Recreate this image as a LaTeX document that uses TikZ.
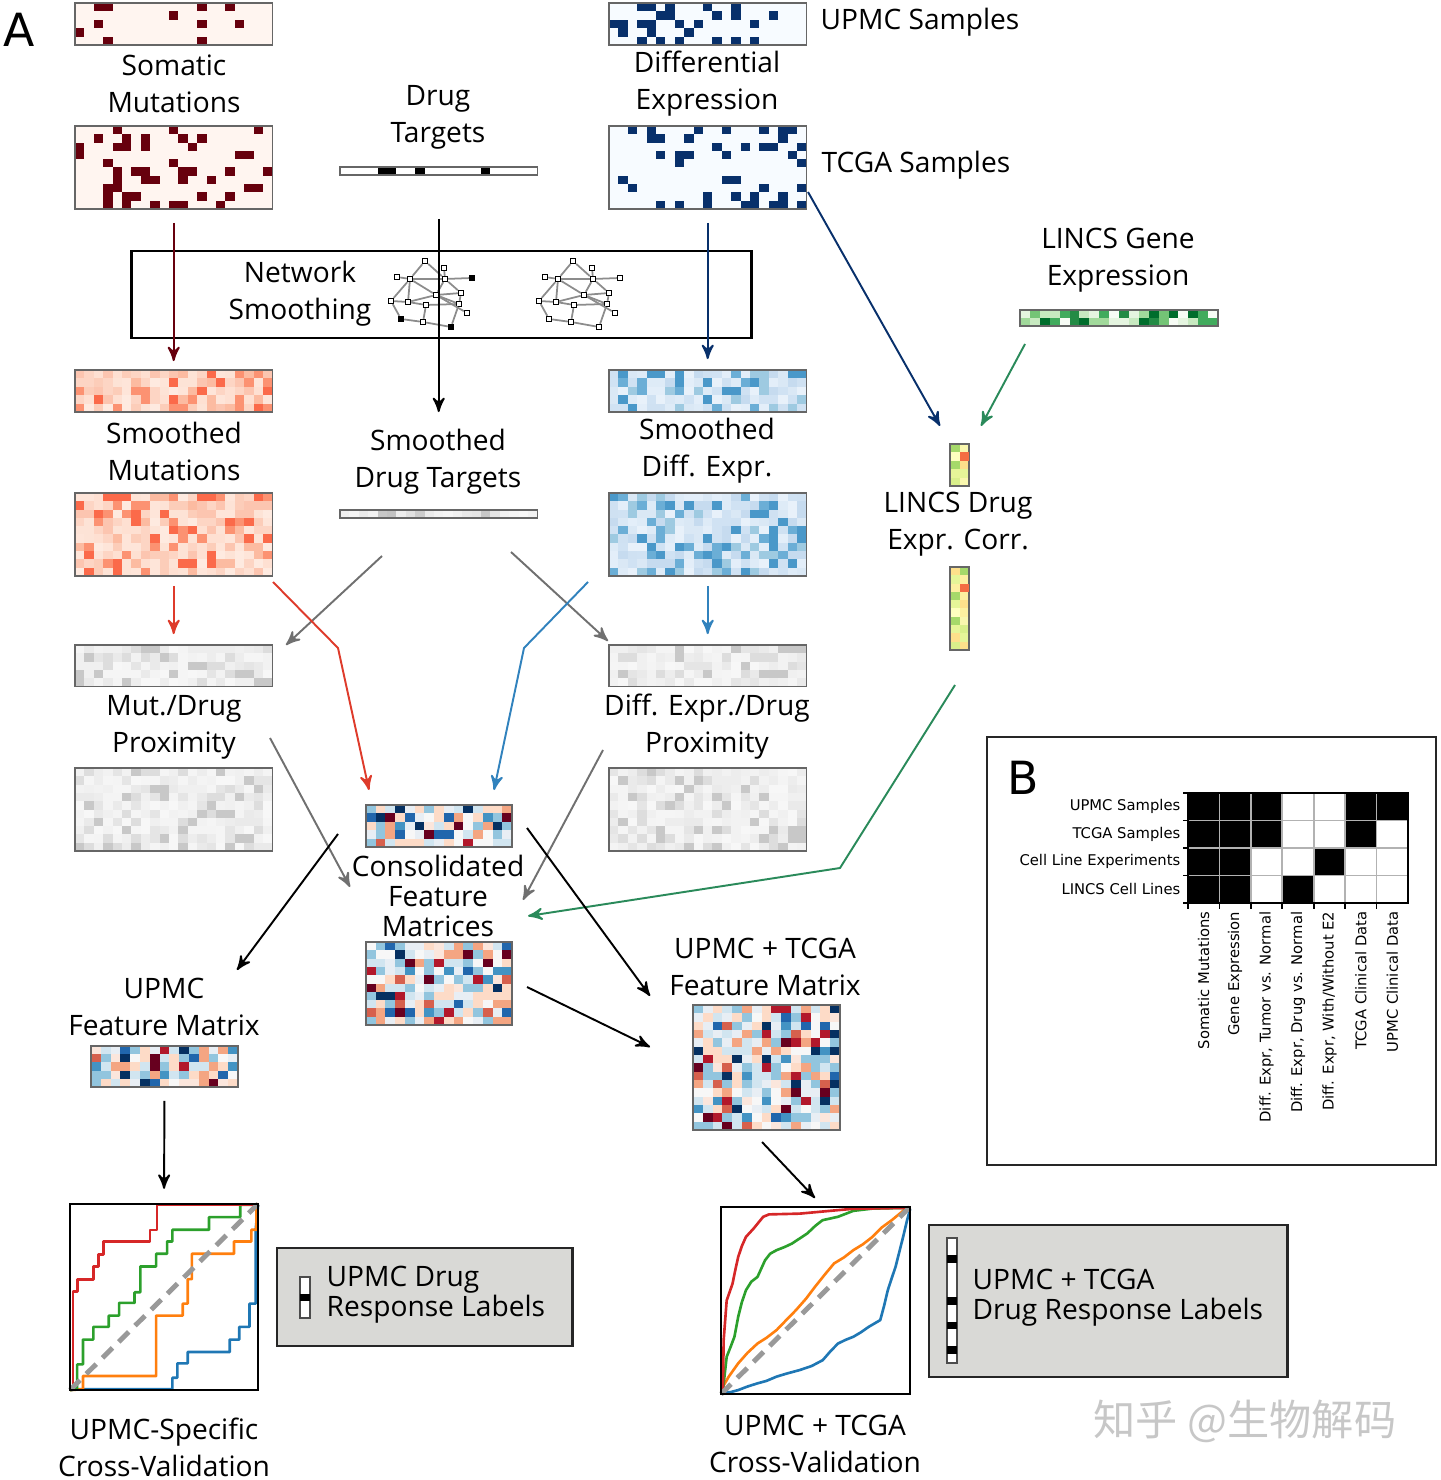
\documentclass[tikz,border=0pt]{standalone}
\usepackage{fontspec}
\setmainfont{Open Sans}
\newfontfamily\dejavu{DejaVu Sans}
\newfontfamily\cjkfont{Noto Sans CJK SC}
\usetikzlibrary{arrows,positioning,fit}

% binary data
\definecolor{mutdark}{HTML}{67000D}
\definecolor{mutbg}{HTML}{FFF5F0}
\colorlet{mut1}{mutbg}\colorlet{mut2}{mutbg}\colorlet{mut3}{mutbg}
\colorlet{mut4}{mutbg}\colorlet{mut5}{mutbg}\colorlet{mut6}{mutdark}
\definecolor{dexdark}{HTML}{08306B}
\definecolor{dexbg}{HTML}{F7FBFF}
\colorlet{dex1}{dexbg}\colorlet{dex2}{dexbg}\colorlet{dex3}{dexbg}
\colorlet{dex4}{dexbg}\colorlet{dex5}{dexdark}
% smoothed data
\definecolor{smr1}{HTML}{FEE5D9}\definecolor{smr2}{HTML}{FDD5C4}
\definecolor{smr3}{HTML}{FCC5B0}\definecolor{smr4}{HTML}{FEE0D2}
\definecolor{smr5}{HTML}{FCBBA1}\definecolor{smr6}{HTML}{FC9272}
\definecolor{smr7}{HTML}{FB6A4A}\definecolor{smr8}{HTML}{FDE3D6}
\definecolor{smr9}{HTML}{FEEAE0}\definecolor{smr10}{HTML}{FCCDB9}
\definecolor{smb1}{HTML}{DEEBF7}\definecolor{smb2}{HTML}{D0E2F3}
\definecolor{smb3}{HTML}{C6DBEF}\definecolor{smb4}{HTML}{E3EEF9}
\definecolor{smb5}{HTML}{9ECAE1}\definecolor{smb6}{HTML}{6BAED6}
\definecolor{smb7}{HTML}{4A98C9}\definecolor{smb8}{HTML}{DAE8F5}
\definecolor{smb9}{HTML}{E8F1FA}\definecolor{smb10}{HTML}{CFE1F2}
\definecolor{prx1}{HTML}{F4F4F4}\definecolor{prx2}{HTML}{F0F0F0}
\definecolor{prx3}{HTML}{EDEDED}\definecolor{prx4}{HTML}{F7F7F7}
\definecolor{prx5}{HTML}{EAEAEA}\definecolor{prx6}{HTML}{F2F2F2}
\definecolor{prx7}{HTML}{E5E5E5}\definecolor{prx8}{HTML}{DDDDDD}
\definecolor{prx9}{HTML}{F5F5F5}\definecolor{prx10}{HTML}{C8C8C8}
% feature matrices
\definecolor{rdb1}{HTML}{67001F}\definecolor{rdb2}{HTML}{B2182B}
\definecolor{rdb3}{HTML}{D6604D}\definecolor{rdb4}{HTML}{F4A582}
\definecolor{rdb5}{HTML}{FDDBC7}\definecolor{rdb6}{HTML}{FDDBC7}
\definecolor{rdb7}{HTML}{F7F7F7}\definecolor{rdb8}{HTML}{D1E5F0}
\definecolor{rdb9}{HTML}{D1E5F0}\definecolor{rdb10}{HTML}{92C5DE}
\definecolor{rdb11}{HTML}{92C5DE}\definecolor{rdb12}{HTML}{4393C3}
\definecolor{rdb13}{HTML}{2166AC}\definecolor{rdb14}{HTML}{053061}
\definecolor{rdb15}{HTML}{E8EEF4}\definecolor{rdb16}{HTML}{FBE6DC}
\definecolor{rdb17}{HTML}{F7F7F7}\definecolor{rdb18}{HTML}{D1E5F0}
\definecolor{rdb19}{HTML}{FDDBC7}\definecolor{rdb20}{HTML}{E8EEF4}
\definecolor{rdb21}{HTML}{92C5DE}\definecolor{rdb22}{HTML}{F4A582}
% LINCS
\definecolor{grn1}{HTML}{E5F5E0}\definecolor{grn2}{HTML}{C7E9C0}
\definecolor{grn3}{HTML}{A1D99B}\definecolor{grn4}{HTML}{74C476}
\definecolor{grn5}{HTML}{41AB5D}\definecolor{grn6}{HTML}{238B45}
\definecolor{grn7}{HTML}{006D2C}\definecolor{grn8}{HTML}{F7FCF5}
\definecolor{lcr1}{HTML}{D9EF8B}\definecolor{lcr2}{HTML}{A6D96A}
\definecolor{lcr3}{HTML}{FEE08B}\definecolor{lcr4}{HTML}{FFFFBF}
\definecolor{lcr5}{HTML}{F9F7AE}\definecolor{lcr6}{HTML}{E6F598}
\definecolor{lcr7}{HTML}{FDF0A0}
\definecolor{lcrhot}{HTML}{F46D43}
% arrows and misc
\definecolor{cMaroon}{HTML}{67000D}
\definecolor{cNavy}{HTML}{08306B}
\definecolor{cRed}{HTML}{DE3B2B}
\definecolor{cBlue}{HTML}{3182BD}
\definecolor{cGray}{HTML}{707070}
\definecolor{cGreen}{HTML}{2A8A5A}
\definecolor{lblgray}{HTML}{D9D9D6}
\definecolor{rocred}{HTML}{D62728}
\definecolor{rocgreen}{HTML}{2CA02C}
\definecolor{rocorange}{HTML}{FF7F0E}
\definecolor{rocblue}{HTML}{1F77B4}

% name, left, top, cols, rows, cell w, cell h, palette, colours
\newcommand{\heatmap}[9]{%
  \foreach \ci in {1,...,#4}{%
    \foreach \ri in {1,...,#5}{%
      \pgfmathrandominteger{\pk}{1}{#9}%
      \fill[fill=#8\pk] ({#2+(\ci-1)*#6},{#3+(\ri-1)*#7}) rectangle ++(#6,#7);
    }%
  }%
  \node[hmframe,fit={(#2,#3) ({#2+#4*#6},{#3+#5*#7})}] (#1) {};
}

\begin{document}
\begin{tikzpicture}
[x=0.01cm,y=-0.01cm,>=stealth',
 hmframe/.style={draw=black!60,line width=0.5pt,inner sep=0pt},
 lbl/.style={align=center,inner sep=0pt,font=\fontsize{8}{10.5}\selectfont},
 tightlbl/.style={align=center,inner sep=0pt,font=\fontsize{8}{8.5}\selectfont},
 panellbl/.style={inner sep=0pt,font=\dejavu\fontsize{13}{13}\selectfont},
 blbl/.style={inner sep=0pt,font=\dejavu\fontsize{4.2}{5}\selectfont},
 arr/.style={->,line width=0.55pt},
 netnode/.style={draw=black,fill=white,line width=0.4pt,inner sep=0pt,minimum size=0.05cm},
 netedge/.style={draw=black!45,line width=0.5pt},
 rocframe/.style={draw=black,line width=0.65pt,inner sep=0pt},
 roc/.style={line width=0.75pt,line join=round},
 lblbox/.style={draw=black!85,fill=lblgray,line width=0.8pt,inner sep=0pt},
 respbar/.style={draw=black!70,fill=white,line width=0.4pt,inner sep=0pt}]

\useasboundingbox (0,0) rectangle (1440,1480);
\pgfmathsetseed{4242}

\node[panellbl] (labA) at (19,30) {A};

% input data
\heatmap{mutA}{75}{3}{21}{5}{9.4}{8.4}{mut}{6}
\heatmap{mutB}{75}{126}{21}{10}{9.4}{8.3}{mut}{6}
\heatmap{dexA}{609}{3}{21}{5}{9.4}{8.4}{dex}{5}
\heatmap{dexB}{609}{126}{21}{10}{9.4}{8.3}{dex}{5}
\fill[white] (340,167) rectangle (537.4,175);
\foreach \c in {4,5,8,15}
  \fill[black] ({340+\c*9.4},167) rectangle ++(9.4,8);
\node[hmframe,fit={(340,167) (537.4,175)}] (dt) {};
\heatmap{lg}{1020}{310}{20}{2}{9.9}{8}{grn}{8}

% smoothed data
\heatmap{smA}{75}{370}{21}{5}{9.4}{8.4}{smr}{10}
\heatmap{smB}{75}{493}{21}{10}{9.4}{8.3}{smr}{10}
\heatmap{sdA}{609}{370}{21}{5}{9.4}{8.4}{smb}{10}
\heatmap{sdB}{609}{493}{21}{10}{9.4}{8.3}{smb}{10}
\foreach \g [count=\c] in {6,4,8,5,22,24,7,12,20,8,5,4,6,9,10,22,10,5,4,3,5}
  \fill[black!\g] ({340+(\c-1)*9.4},510) rectangle ++(9.4,8);
\node[hmframe,fit={(340,510) (537.4,518)}] (sdt) {};
\heatmap{lcA}{950}{444}{2}{5}{9.5}{8.4}{lcr}{7}
\heatmap{lcB}{950}{567}{2}{10}{9.5}{8.3}{lcr}{7}
\fill[lcrhot] (959.5,452.4) rectangle ++(9.5,8.4);
\fill[lcrhot] (959.5,583.6) rectangle ++(9.5,8.3);

% proximity
\heatmap{pmA}{75}{645}{21}{5}{9.4}{8.3}{prx}{10}
\heatmap{pmB}{75}{768}{21}{10}{9.4}{8.3}{prx}{10}
\heatmap{pdA}{609}{645}{21}{5}{9.4}{8.3}{prx}{10}
\heatmap{pdB}{609}{768}{21}{10}{9.4}{8.3}{prx}{10}

% feature matrices
\heatmap{cfA}{366}{805}{15}{5}{9.73}{8.4}{rdb}{22}
\heatmap{cfB}{366}{942}{15}{10}{9.73}{8.3}{rdb}{22}
\heatmap{uf}{91}{1046}{15}{5}{9.8}{8.2}{rdb}{22}
\heatmap{ut}{693}{1005}{15}{15}{9.8}{8.33}{rdb}{22}

% network smoothing
\node[draw=black,line width=0.8pt,minimum width=6.19cm,minimum height=0.87cm,inner sep=0pt] (netbox) at (441.5,294.5) {};
\foreach \dx/\hot in {0/black,148/white}{
  \begin{scope}[shift={(\dx,0)}]
    \foreach \nm/\px/\py in {a/425/261,b/444/268,d/397/277,e/410/279,f/445/279,g/461/293,h/436/295,i/391/301,j/408/302,k/426/305,l/459/304,m/467/313,o/423/322}
      \node[netnode] (\nm\dx) at (\px,\py) {};
    \foreach \nm/\px/\py in {c/472/278,n/401/319,p/451/327}
      \node[netnode,fill=\hot] (\nm\dx) at (\px,\py) {};
    \foreach \u/\v in {a/e,a/f,b/f,d/e,e/f,f/c,e/i,e/j,e/h,f/h,f/g,h/g,h/j,h/l,h/m,g/l,i/j,i/n,n/o,o/k,o/p,j/k,k/l,l/p}
      \draw[netedge] (\u\dx) -- (\v\dx);
  \end{scope}
}

% cross-validation
\begin{scope}[shift={(70,1390)},x=1.88cm,y=1.86cm]
  \draw[roc,rocblue] (0,0.004) -- (0.544,0.004) -- (0.544,0.066) -- (0.571,0.066) -- (0.571,0.143) -- (0.626,0.143) -- (0.626,0.204) -- (0.849,0.204) -- (0.849,0.271) -- (0.9,0.271) -- (0.9,0.339) -- (0.954,0.339) -- (0.954,0.464) -- (0.987,0.464) -- (0.987,0.861) -- (1,0.995);
  \draw[roc,rocorange] (0,0) -- (0.069,0.004) -- (0.069,0.075) -- (0.458,0.075) -- (0.458,0.4) -- (0.599,0.4) -- (0.599,0.464) -- (0.626,0.464) -- (0.626,0.596) -- (0.648,0.596) -- (0.648,0.732) -- (0.872,0.732) -- (0.872,0.798) -- (0.964,0.798) -- (0.964,0.861) -- (0.991,0.861) -- (0.991,0.995) -- (1,1);
  \draw[roc,rocgreen] (0,0) -- (0.038,0.004) -- (0.038,0.1375) -- (0.069,0.1375) -- (0.069,0.271) -- (0.124,0.271) -- (0.124,0.339) -- (0.206,0.339) -- (0.206,0.4) -- (0.261,0.4) -- (0.261,0.468) -- (0.343,0.468) -- (0.343,0.525) -- (0.374,0.525) -- (0.374,0.664) -- (0.458,0.664) -- (0.458,0.732) -- (0.516,0.732) -- (0.516,0.798) -- (0.544,0.798) -- (0.544,0.861) -- (0.739,0.861) -- (0.739,0.929) -- (0.905,0.929) -- (0.905,0.995) -- (1,0.995);
  \draw[roc,rocred] (0.015,0.02) -- (0.015,0.53) -- (0.04,0.53) -- (0.04,0.595) -- (0.124,0.595) -- (0.124,0.664) -- (0.151,0.664) -- (0.151,0.727) -- (0.179,0.727) -- (0.179,0.798) -- (0.425,0.798) -- (0.425,0.86) -- (0.462,0.86) -- (0.462,0.995) -- (1,0.995);
  \draw[line width=1.4pt,black!40,dash pattern=on 4pt off 2.5pt] (0,0) -- (1,1);
\end{scope}
\node[rocframe,fit={(70,1204) (258,1390)}] (rocU) {};

\begin{scope}[shift={(721,1394)},x=1.89cm,y=1.87cm]
  \draw[roc,rocblue] (0.01,0.007) -- (0.05,0.01) -- (0.091,0.021) -- (0.14,0.04) -- (0.193,0.057) -- (0.24,0.07) -- (0.294,0.093) -- (0.35,0.11) -- (0.416,0.128) -- (0.48,0.15) -- (0.538,0.181) -- (0.58,0.23) -- (0.619,0.27) -- (0.66,0.29) -- (0.7,0.306) -- (0.74,0.33) -- (0.781,0.359) -- (0.842,0.395) -- (0.862,0.47) -- (0.882,0.555) -- (0.903,0.62) -- (0.923,0.68) -- (0.943,0.76) -- (0.963,0.84) -- (0.984,0.929) -- (1,0.988);
  \draw[roc,rocorange] (0.01,0.039) -- (0.041,0.093) -- (0.091,0.164) -- (0.14,0.22) -- (0.193,0.27) -- (0.24,0.3) -- (0.294,0.342) -- (0.34,0.39) -- (0.396,0.448) -- (0.45,0.51) -- (0.497,0.573) -- (0.55,0.64) -- (0.598,0.698) -- (0.65,0.73) -- (0.7,0.769) -- (0.75,0.8) -- (0.801,0.84) -- (0.85,0.89) -- (0.903,0.929) -- (0.963,0.979) -- (1,0.991);
  \draw[roc,rocgreen] (0.01,0.02) -- (0.03,0.199) -- (0.05,0.25) -- (0.071,0.306) -- (0.091,0.413) -- (0.11,0.49) -- (0.132,0.555) -- (0.16,0.6) -- (0.193,0.626) -- (0.233,0.715) -- (0.26,0.75) -- (0.294,0.769) -- (0.335,0.785) -- (0.375,0.804) -- (0.456,0.858) -- (0.5,0.9) -- (0.537,0.929) -- (0.618,0.947) -- (0.7,0.979) -- (0.801,0.991) -- (1,0.995);
  \draw[roc,rocred] (0.01,0.02) -- (0.014,0.288) -- (0.03,0.5) -- (0.061,0.59) -- (0.075,0.66) -- (0.091,0.733) -- (0.11,0.79) -- (0.132,0.84) -- (0.172,0.884) -- (0.223,0.947) -- (0.254,0.96) -- (0.416,0.964) -- (0.578,0.979) -- (0.7,0.99) -- (1,0.995);
  \draw[line width=1.4pt,black!40,dash pattern=on 4pt off 2.5pt] (0,0) -- (1,1);
\end{scope}
\node[rocframe,fit={(721,1207) (910,1394)}] (rocT) {};

% response labels
\node[lblbox,minimum width=2.95cm,minimum height=0.98cm] (rlU) at (424.5,1297) {};
\node[respbar,minimum width=0.1cm,minimum height=0.41cm] (rbU) at (305,1297.5) {};
\fill[black] (300,1294) rectangle (310,1301);
\node[tightlbl,align=left,anchor=west] (tRU) at (326,1295) {UPMC Drug\\Response Labels};

\node[lblbox,minimum width=3.58cm,minimum height=1.52cm] (rlT) at (1108,1301) {};
\node[respbar,minimum width=0.1cm,minimum height=1.25cm] (rbT) at (952,1300.5) {};
\foreach \ya/\yb in {1255/1263,1297/1305,1322/1329,1346/1354}
  \fill[black] (947,\ya) rectangle (957,\yb);
\node[tightlbl,align=left,anchor=west] (tRT) at (972,1298) {UPMC + TCGA\\Drug Response Labels};

% labels
\node[lbl] (tSom) at (174,84) {Somatic\\Mutations};
\node[lbl] (tDrug) at (438,117) {Drug\\Targets};
\node[lbl] (tDiff) at (707,84) {Differential\\Expression};
\node[lbl,anchor=west] (tUPMCs) at (820,22) {UPMC Samples};
\node[lbl,anchor=west] (tTCGAs) at (821,165) {TCGA Samples};
\node[lbl] (tNet) at (300,294) {Network\\Smoothing};
\node[lbl] (tLGene) at (1118,260) {LINCS Gene\\Expression};
\node[lbl] (tSmMut) at (174,451) {Smoothed\\Mutations};
\node[lbl] (tSmDT) at (438,462) {Smoothed\\Drug Targets};
\node[lbl] (tSmDiff) at (707,451) {Smoothed\\Diff. Expr.};
\node[lbl] (tLDrug) at (958,524) {LINCS Drug\\Expr. Corr.};
\node[lbl] (tMutProx) at (174,727) {Mut./Drug\\Proximity};
\node[lbl] (tDiffProx) at (707,727) {Diff. Expr./Drug\\Proximity};
\node[tightlbl] (tCons) at (438,896) {Consolidated\\Feature\\Matrices};
\node[lbl] (tUFM) at (164,1007) {UPMC\\Feature Matrix};
\node[lbl] (tUTFM) at (765,967) {UPMC + TCGA\\Feature Matrix};
\node[lbl] (tUCV) at (164,1447) {UPMC-Specific\\Cross-Validation};
\node[lbl] (tUTCV) at (815,1444) {UPMC + TCGA\\Cross-Validation};

% connectors
\coordinate (tcgaOut) at (808,192); \coordinate (lcIn1) at (940,426);
\coordinate (lgOut) at (1025,344); \coordinate (lcIn2) at (981,426);
\coordinate (smOut) at (273,582); \coordinate (smBend) at (338,648); \coordinate (cfIn1) at (369,790);
\coordinate (sdOut) at (588,582); \coordinate (sdBend) at (524,648); \coordinate (cfIn2) at (494,790);
\coordinate (sdtOutL) at (382,556); \coordinate (pmIn) at (286,645);
\coordinate (sdtOutR) at (511,552); \coordinate (pdIn) at (608,641);
\coordinate (pmOut) at (270,738); \coordinate (cfIn3) at (350,887);
\coordinate (pdOut) at (603,750); \coordinate (cfIn4) at (523,900);
\coordinate (lcOut) at (955,685); \coordinate (lcBend) at (840,868); \coordinate (cfIn5) at (528,916);
\coordinate (cfOutA) at (338,834); \coordinate (ufIn) at (237,970);
\coordinate (cfOutB) at (527,828); \coordinate (utIn1) at (650,996);
\coordinate (cfOutC) at (527,987); \coordinate (utIn2) at (650,1047);
\coordinate (utOut) at (762,1142); \coordinate (rocTIn) at (815,1198);

\draw[arr,cMaroon,shorten <=0.13cm,shorten >=0.08cm] (mutB.south) -- (smA.north);
\draw[arr,black,shorten <=0.43cm,shorten >=0.97cm] (dt.south) -- (sdt.north);
\draw[arr,cNavy,shorten <=0.13cm,shorten >=0.1cm] (dexB.south) -- (sdA.north);
\draw[arr,cNavy] (tcgaOut) -- (lcIn1);
\draw[arr,cGreen] (lgOut) -- (lcIn2);
\draw[arr,cRed,shorten <=0.09cm,shorten >=0.1cm] (smB.south) -- (pmA.north);
\draw[arr,cBlue,shorten <=0.09cm,shorten >=0.1cm] (sdB.south) -- (pdA.north);
\draw[arr,cGray] (sdtOutL) -- (pmIn);
\draw[arr,cGray] (sdtOutR) -- (pdIn);
\draw[arr,cRed] (smOut) -- (smBend) -- (cfIn1);
\draw[arr,cBlue] (sdOut) -- (sdBend) -- (cfIn2);
\draw[arr,cGray] (pmOut) -- (cfIn3);
\draw[arr,cGray] (pdOut) -- (cfIn4);
\draw[arr,cGreen] (lcOut) -- (lcBend) -- (cfIn5);
\draw[arr,black] (cfOutA) -- (ufIn);
\draw[arr,black] (cfOutB) -- (utIn1);
\draw[arr,black] (cfOutC) -- (utIn2);
\draw[arr,black,shorten <=0.13cm,shorten >=0.14cm] (uf.south) -- (rocU.north);
\draw[arr,black] (utOut) -- (rocTIn);

% panel B
\draw[black!85,line width=0.8pt] (987,737) rectangle (1436,1165);
\node[panellbl] (labB) at (1023,778) {B};
\foreach \row [count=\r] in {{1,1,1,0,0,1,1},{1,1,1,0,0,1,0},{1,1,0,0,1,0,0},{1,1,0,1,0,0,0}}{
  \foreach \v [count=\c] in \row{
    \ifnum\v=1
      \fill[black] ({1188+(\c-1)*31.43},{793+(\r-1)*27.5}) rectangle ++(31.43,27.5);
    \fi
  }
}
\foreach \c in {1,...,6}
  \draw[black!30,line width=0.5pt] ({1188+\c*31.43},793) -- ++(0,110);
\foreach \r in {1,2,3}
  \draw[black!30,line width=0.5pt] (1188,{793+\r*27.5}) -- ++(220,0);
\draw[black,line width=0.6pt] (1188,793) rectangle (1408,903);
\foreach \r in {0,...,4}
  \draw[black,line width=0.5pt] (1188,{793+\r*27.5}) -- ++(-5,0);
\foreach \c in {0,...,6}
  \draw[black,line width=0.5pt] ({1188+\c*31.43},903) -- ++(0,6);
\foreach \t [count=\r] in {UPMC Samples,TCGA Samples,Cell Line Experiments,LINCS Cell Lines}
  \node[blbl,anchor=east] (row\r) at (1181,{793+(\r-0.5)*27.5}) {\t};
\foreach \t [count=\c] in {Somatic Mutations,Gene Expression,{Diff. Expr, Tumor vs. Normal},{Diff. Expr, Drug vs. Normal},{Diff. Expr, With/Without E2},TCGA Clinical Data,UPMC Clinical Data}
  \node[blbl,rotate=90,anchor=east] (col\c) at ({1188+(\c-0.5)*31.43},911) {\t};

% watermark
\node[anchor=west,inner sep=0pt,text=black!22,font=\cjkfont\fontsize{12}{12}\selectfont] (wm) at (1093,1421) {知乎 @生物解码};
\end{tikzpicture}
\end{document}
